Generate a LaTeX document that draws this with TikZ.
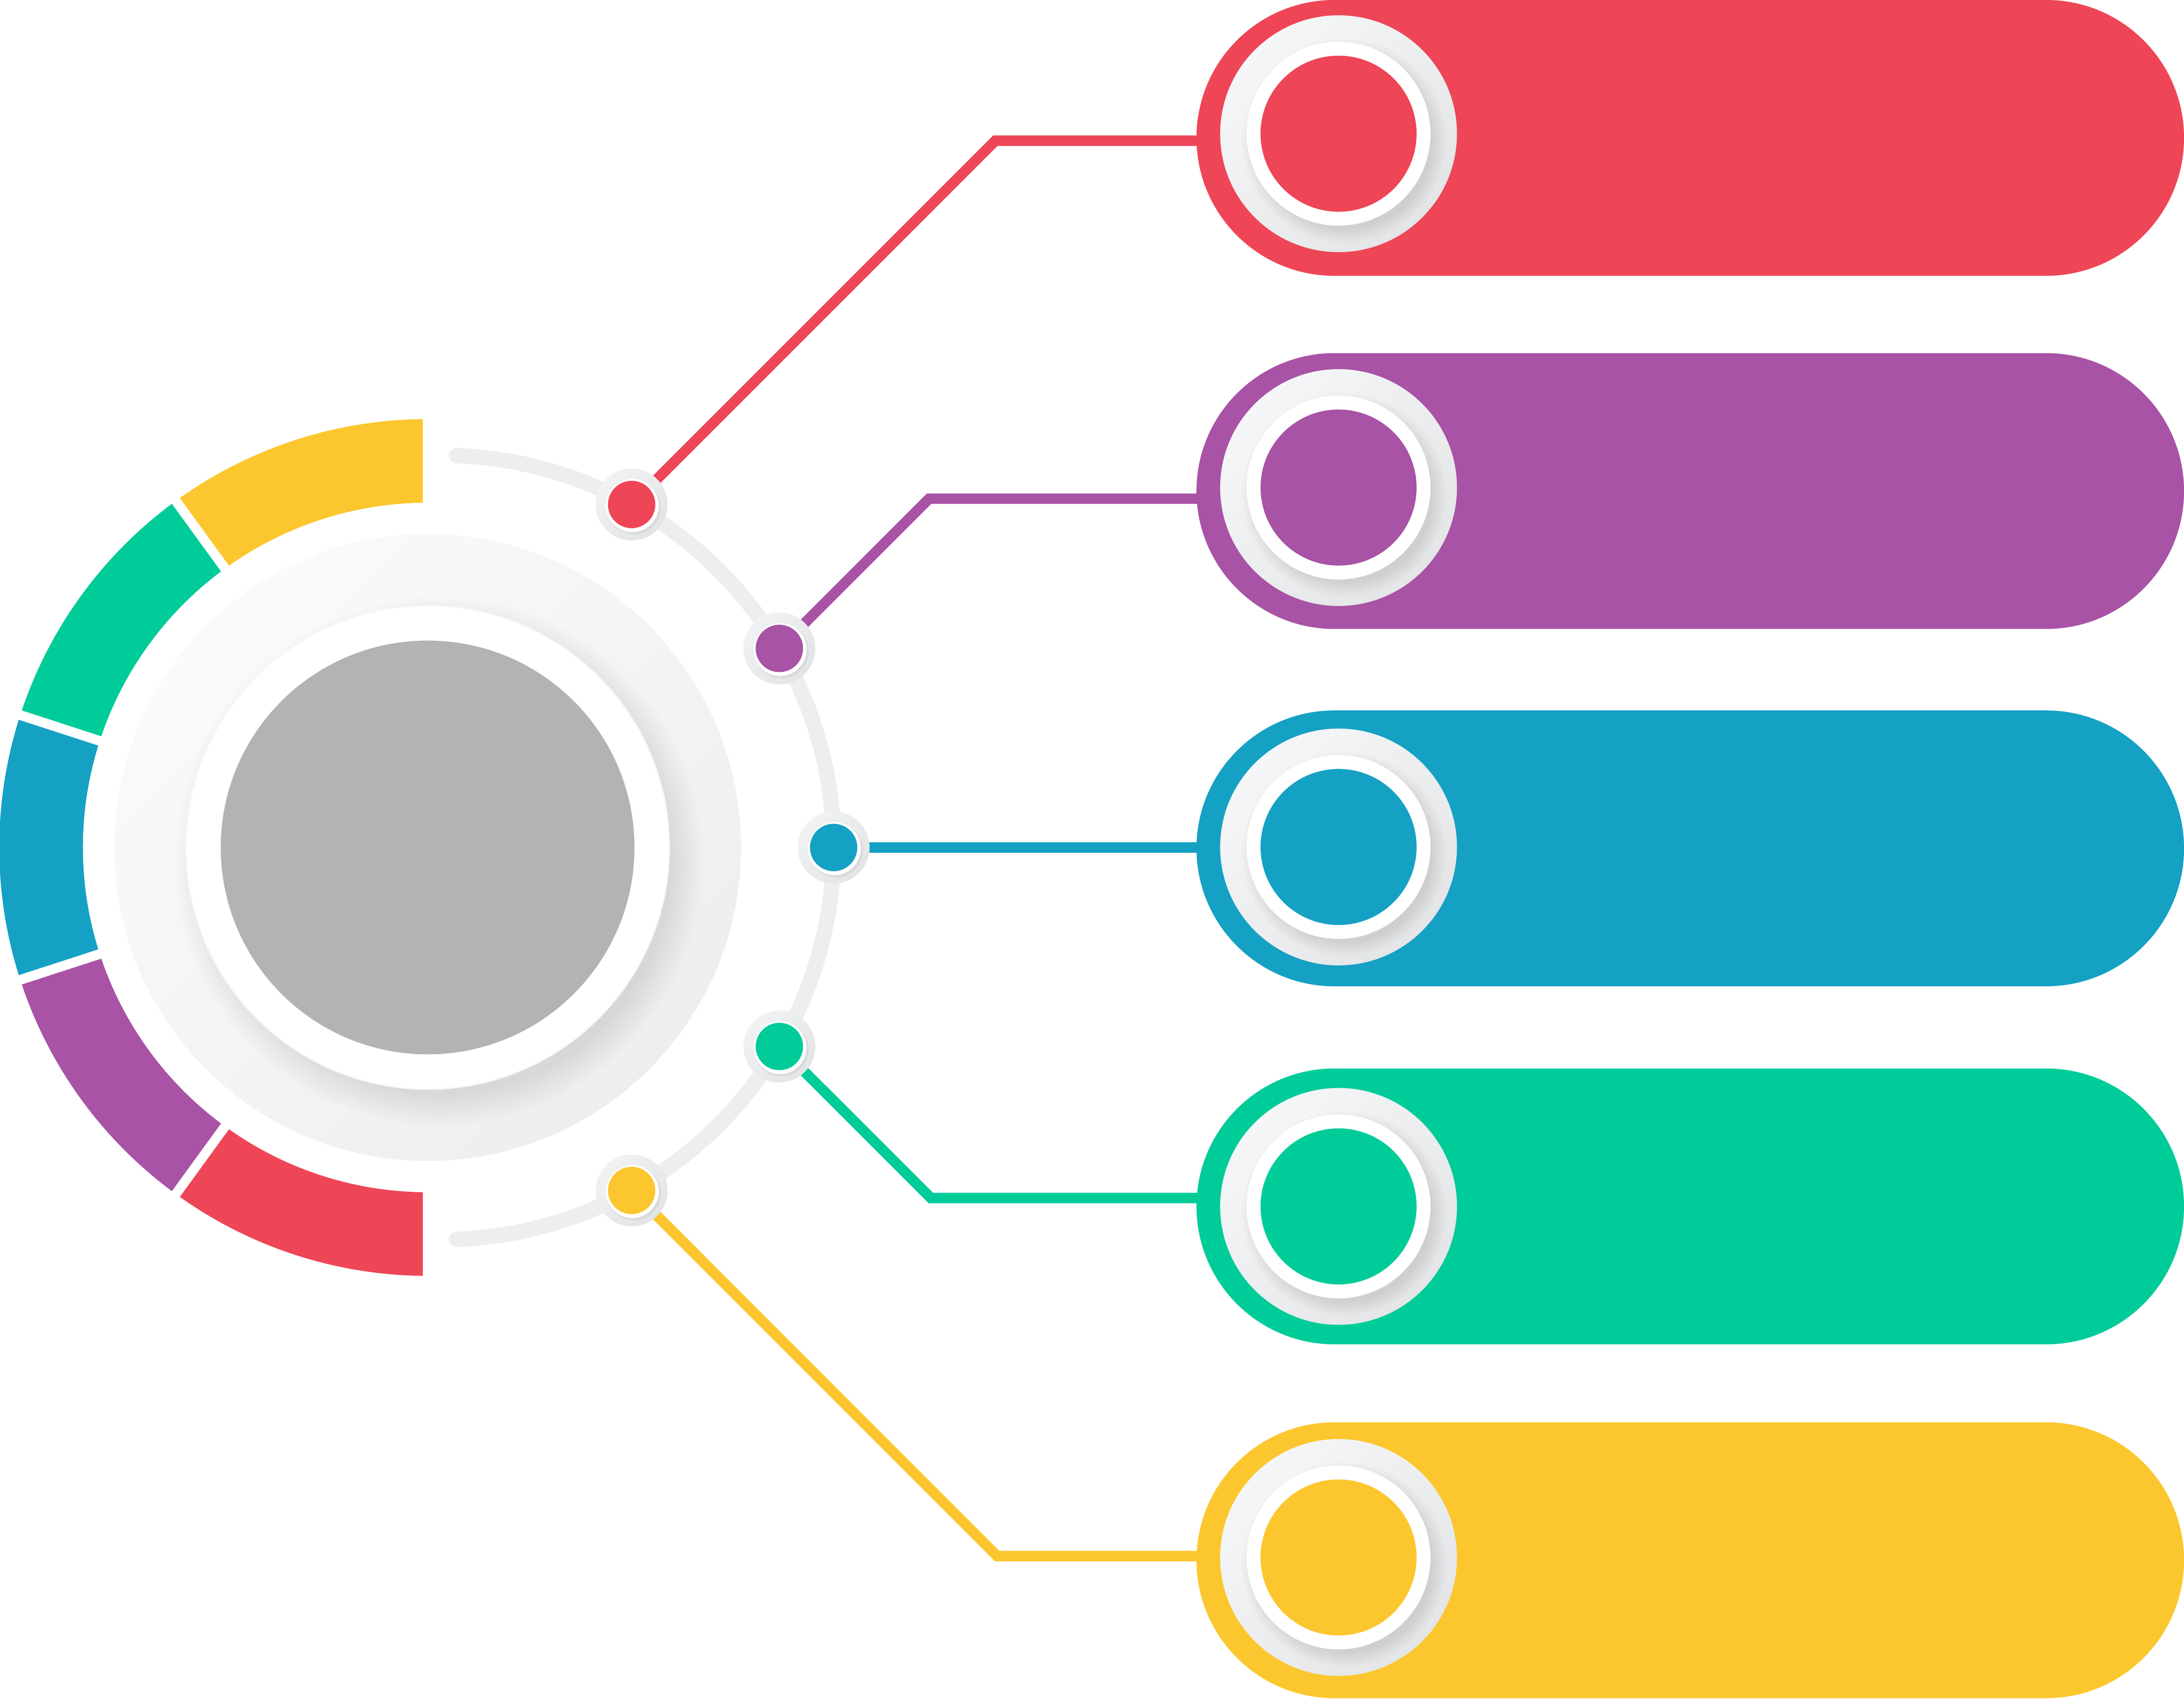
\documentclass[tikz,border=0pt]{standalone}
\usetikzlibrary{calc}
\definecolor{cred}{HTML}{EE4657}
\definecolor{cpur}{HTML}{A853A5}
\definecolor{cblu}{HTML}{15A1C4}
\definecolor{cgrn}{HTML}{00CC9A}
\definecolor{cyel}{HTML}{FCC72E}
\definecolor{track}{HTML}{ECEEF0}
\definecolor{disc1}{HTML}{F9FAFA}
\definecolor{disc2}{HTML}{EDEEF0}
\definecolor{pdisc1}{HTML}{F5F6F7}
\definecolor{pdisc2}{HTML}{E3E5E7}
\definecolor{dot1}{HTML}{F1F2F3}
\definecolor{dot2}{HTML}{E2E4E6}
\definecolor{grayc}{HTML}{B3B3B3}
\begin{document}
\begin{tikzpicture}[x=1pt,y=1pt,
  conn/.style={line width=7.5pt, line join=miter, line cap=butt},
  pill/.style={rectangle, rounded corners=99pt, minimum width=709pt, minimum height=198pt, inner sep=0pt, outer sep=0pt, draw=none},
  dotbase/.style={circle, inner sep=0pt, outer sep=0pt, minimum size=51.6pt, draw=none, top color=dot1, bottom color=dot2, shading angle=45},
  trackline/.style={draw=track, line width=11pt, line cap=round}]
\useasboundingbox (0,0) rectangle (1568,1219.35);
\fill[white] (0,0) rectangle (1568,1219.35);
\coordinate (C) at (307,611);
\coordinate (T) at (317,611);
% coloured segments
\foreach \col/\a in {cyel/90, cgrn/126, cblu/162, cpur/198, cred/234} {
  \pgfmathsetmacro\b{\a+36}
  \fill[\col] ($(C)+(\a:307.5)$) arc[start angle=\a, end angle=\b, radius=307.5]
    -- ($(C)+(\b:247.5)$) arc[start angle=\b, end angle=\a, radius=247.5] -- cycle;
}
\foreach \a in {90,126,162,198,234,270}
  \draw[white, line width=7pt] ($(C)+(\a:240)$) -- ($(C)+(\a:316)$);
% central disc
\shade[top color=disc1, bottom color=disc2, shading angle=45] (C) circle[radius=225];
\foreach \k in {0,...,7}
  \fill[black, opacity=0.012] ($(C)+(8,-10)$) circle[radius={168+3*\k}];
\fill[white] (C) circle[radius=174];
\draw[black, opacity=0.03, line width=1pt] (C) circle[radius=173.5];
\fill[grayc] (C) circle[radius=148.5];
% track
\draw[trackline] ($(T)+(87.8:281.5)$) arc[start angle=87.8, end angle=-87.8, radius=281.5];
% dot positions and corners
\coordinate (d1) at ($(T)+(61:281.5)$);
\coordinate (d2) at ($(T)+(30.5:281.5)$);
\coordinate (d3) at ($(T)+(0:281.5)$);
\coordinate (d4) at ($(T)+(-30.5:281.5)$);
\coordinate (d5) at ($(T)+(-61:281.5)$);
\coordinate (k1) at (714.61,1118.35);
\coordinate (k2) at (667.03,861.35);
\coordinate (k4) at (668.33,359.35);
\coordinate (k5) at (715.91,102.35);
% pills
\foreach \i/\col/\py in {1/cred/1120.35, 2/cpur/866.85, 3/cblu/610.35, 4/cgrn/353.35, 5/cyel/99.35}
  \node[pill, fill=\col] (p\i) at (1213.5,\py) {};
% pill circles
\foreach \i/\col/\qy in {1/cred/1123.35, 2/cpur/869.35, 3/cblu/611.35, 4/cgrn/353.35, 5/cyel/101.35} {
  \node[circle, inner sep=0pt, outer sep=0pt, minimum size=170pt, draw=none,
        top color=pdisc1, bottom color=pdisc2, shading angle=45] (q\i) at (961,\qy) {};
  \foreach \k in {0,...,5}
    \fill[black, opacity=0.015] ($(q\i.center)+(4,-5)$) circle[radius={64+1.8*\k}];
  \fill[white] (q\i.center) circle[radius=66];
  \fill[\col] (q\i.center) circle[radius=56];
}
% connectors
\draw[conn, cred] (d1) -- (k1) -- (k1 -| p1.west) -- ++(12,0);
\draw[conn, cpur] (d2) -- (k2) -- (k2 -| p2.west) -- ++(12,0);
\draw[conn, cblu] (d3) -- (d3 -| p3.west) -- ++(12,0);
\draw[conn, cgrn] (d4) -- (k4) -- (k4 -| p4.west) -- ++(12,0);
\draw[conn, cyel] (d5) -- (k5) -- (k5 -| p5.west) -- ++(12,0);
% dots
\foreach \i/\col in {1/cred, 2/cpur, 3/cblu, 4/cgrn, 5/cyel} {
  \node[dotbase] (n\i) at (d\i) {};
  \fill[black, opacity=0.05] ($(n\i.center)+(1.5,-2)$) circle[radius=19.5];
  \fill[white] ($(n\i.center)+(0.5,-0.8)$) circle[radius=19];
  \fill[\col] (n\i.center) circle[radius=17];
}
\end{tikzpicture}
\end{document}
